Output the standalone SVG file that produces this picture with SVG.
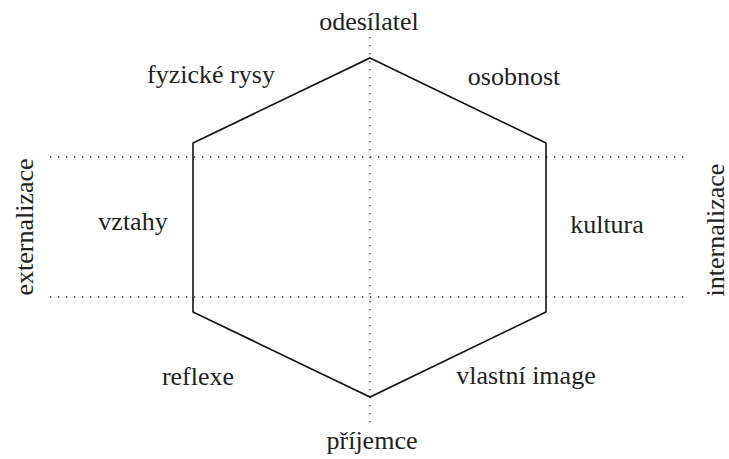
<svg xmlns="http://www.w3.org/2000/svg" width="729" height="459" viewBox="0 0 729 459">
  <style>
    .lbl { font-size: 26px; fill: #222; text-anchor: middle; }
    .guide { stroke: #333; stroke-width: 1.3; stroke-dasharray: 1.3 6.7; fill: none; }
    .hex { stroke: #111; stroke-width: 1.6; fill: none; stroke-linejoin: miter; }
  </style>
  <rect width="729" height="459" fill="#fff"/>

  <!-- dotted guide lines -->
  <g id="connectors">
    <line class="guide" x1="50" y1="157" x2="690" y2="157"/>
    <line class="guide" x1="50" y1="297" x2="690" y2="297"/>
    <line class="guide" x1="370" y1="37" x2="370" y2="424"/>
  </g>

  <!-- identity hexagon -->
  <g id="hexagon">
    <polygon class="hex" points="370,58 546,143 546,312 370,397 193,312 193,143"/>
  </g>

  <g font-family="Liberation Serif, DejaVu Serif, serif">
    <g id="odesilatel"><text class="lbl" x="369" y="30">odesílatel</text></g>
    <g id="prijemce"><text class="lbl" x="372" y="449">příjemce</text></g>
    <g id="fyzicke-rysy"><text class="lbl" x="211" y="83">fyzické rysy</text></g>
    <g id="osobnost"><text class="lbl" x="514" y="85">osobnost</text></g>
    <g id="vztahy"><text class="lbl" x="133" y="230">vztahy</text></g>
    <g id="kultura"><text class="lbl" x="607" y="233">kultura</text></g>
    <g id="reflexe"><text class="lbl" x="198" y="385">reflexe</text></g>
    <g id="vlastni-image"><text class="lbl" x="526" y="384">vlastní image</text></g>
    <g id="externalizace"><text class="lbl" transform="translate(33,227) rotate(-90)">externalizace</text></g>
    <g id="internalizace"><text class="lbl" transform="translate(724,230) rotate(-90)">internalizace</text></g>
  </g>
</svg>
